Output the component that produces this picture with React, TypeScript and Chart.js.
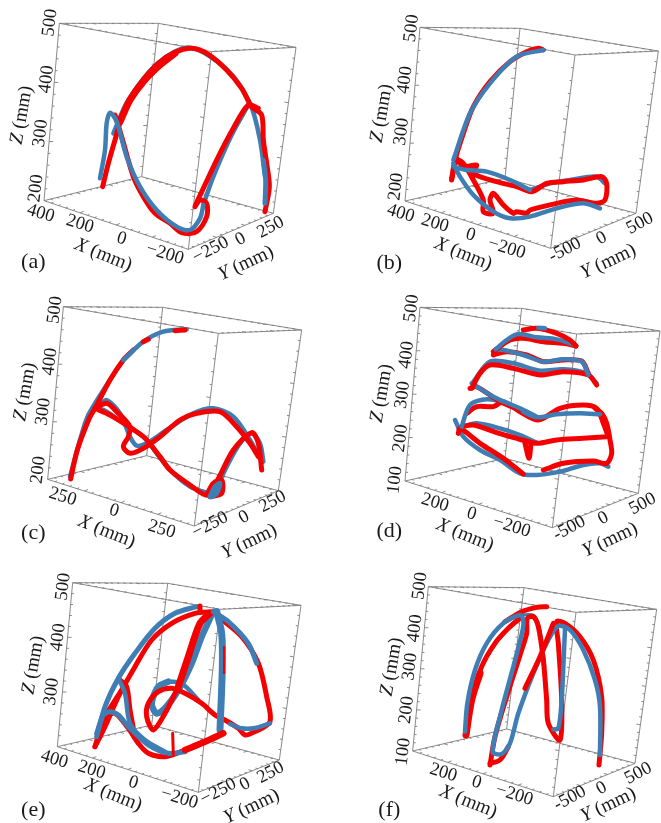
import React, { useEffect, useRef } from "react";
import { Chart, registerables } from "chart.js";

Chart.register(...registerables);

type P = number[];
const RED = "#f50000";
const BLUE = "#3f7db5";
const SERIF = '"Liberation Serif", "Times New Roman", Times, serif';

// Box corners, in projected plot units: top-left, top-back, top-right, top-front, bottom-left, bottom-back, bottom-right, bottom-front
const boxA: P[] = [[178,70],[475,70],[888,142],[635,155],[132,602],[425,530],[820,640],[565,748]];
const boxB: P[] = [[270,82],[570,85],[985,153],[735,165],[225,603],[525,535],[918,640],[662,745]];
const boxC: P[] = [[190,80],[488,82],[905,150],[655,160],[143,598],[440,527],[835,632],[583,738]];
const boxD: P[] = [[270,82],[575,85],[990,153],[740,162],[225,603],[525,535],[925,640],[667,743]];
const boxE: P[] = [[218,98],[503,100],[903,166],[660,178],[172,590],[455,525],[838,630],[595,727]];
const boxF: P[] = [[295,110],[582,113],[980,178],[738,187],[248,603],[530,537],[915,640],[670,740]];

// Trajectories (projected)
const aBlueArc: P[] = [[340,400],[385,300],[475,188],[570,143],[680,208],[750,310],[780,420],[795,530]];
const aRedArc: P[] = [[308,560],[325,490],[345,420],[358,375],[385,305],[425,245],[475,190],[525,157],[575,145],[625,163],[680,210],[725,265],[755,320],[785,345],[790,420],[800,490],[808,560],[795,635]];
const aRedBand: P[] = [[360,365],[390,300],[430,245],[480,195],[525,160]];
const aRedLoop: P[] = [[345,345],[365,410],[400,530],[430,590],[465,640],[510,670],[545,698],[590,695],[620,650],[620,610],[600,600],[585,620],[610,565],[650,480],[700,385],[745,315],[775,325]];
const aBlueLoop: P[] = [[300,535],[315,450],[320,370],[330,338],[350,365],[380,470],[420,560],[470,630],[530,680],[570,690],[600,655],[610,615]];
const aBlueRise: P[] = [[610,615],[640,530],[695,405],[745,315]];
const aBlueFoot: P[] = [[790,480],[797,540],[795,610]];

const bBlueArc: P[] = [[370,480],[420,340],[480,250],[560,170],[640,150]];
const bRedArc: P[] = [[365,535],[375,480],[400,400],[430,320],[480,245],[540,185],[590,155],[625,145],[640,150]];
const bBlueUpper: P[] = [[370,500],[410,510],[470,515],[540,540],[600,570]];
const bBlueUpperRight: P[] = [[600,570],[660,550],[720,540],[800,530],[825,550]];
const bBlueLower: P[] = [[810,625],[760,610],[680,625],[600,650],[540,655],[490,635],[430,585],[390,530],[370,490]];
const bRedLoop: P[] = [[380,475],[400,500],[440,495],[430,520],[500,545],[560,560],[605,575],[650,550],[700,545],[760,540],[815,530],[830,550],[825,600],[800,610],[740,600],[680,610],[600,630],[590,640],[560,635],[550,640],[520,615],[490,580],[480,600],[490,640],[460,635],[460,600],[430,540],[400,490],[380,480],[365,540]];

const cBlueArc: P[] = [[210,590],[240,480],[265,405],[330,300],[370,240]];
const cBlueTop: P[] = [[370,240],[430,185],[490,155],[560,148]];
const cRedArc: P[] = [[212,597],[232,510],[268,415],[285,385],[330,300],[370,240],[400,210]];
const cRedBits: P[] = [[430,185],[445,178]];
const cRedEnd: P[] = [[525,152],[555,150]];
const cBlue1: P[] = [[265,405],[290,385],[320,395],[370,430],[430,470],[470,520],[510,570],[570,620],[625,640]];
const cBlue2: P[] = [[300,375],[320,360],[360,400],[390,470],[410,497],[440,490],[500,450],[580,400],[640,385],[700,410],[750,480],[785,545]];
const cBlue3: P[] = [[640,645],[680,560],[720,490],[755,460],[780,490],[790,545]];
const cRed1: P[] = [[285,385],[330,405],[430,470],[480,530],[510,570],[570,615],[620,645],[650,605],[700,510],[755,458],[775,490],[785,570]];
const cRed2: P[] = [[285,385],[320,370],[350,395],[390,440],[385,470],[370,500],[390,520],[430,505],[480,470],[540,420],[590,400],[660,395],[710,440],[750,490],[775,530]];
const cKnotBlue: P[] = [[630,650],[645,620],[660,610],[650,640],[635,650]];
const cKnotRed: P[] = [[620,645],[640,610],[665,600],[665,640],[630,650]];

const dBlue1: P[] = [[375,420],[400,470],[450,510],[510,540],[570,580],[620,585],[690,575],[760,555],[810,550],[835,560]];
const dRed1: P[] = [[385,460],[390,445],[450,490],[520,535],[580,582]];
const dRed1b: P[] = [[640,570],[700,550],[790,543],[830,550],[845,520],[840,480],[830,430],[815,400],[795,385]];
const dRed2: P[] = [[395,440],[430,435],[500,458],[560,475],[620,490],[680,480],[760,475],[830,470]];
const dBlue2: P[] = [[400,440],[440,430],[510,445],[570,465],[620,488]];
const dSpike: P[] = [[585,490],[597,535],[603,490]];
const dBlue3: P[] = [[395,440],[420,375],[470,358],[530,370],[580,395],[620,412],[680,403],[750,400],[810,403]];
const dRed3: P[] = [[410,400],[440,380],[490,380],[520,365],[570,395],[625,420],[690,385],[760,375],[800,385],[820,430],[835,470]];
const dBlue4: P[] = [[425,310],[490,350],[570,385],[620,410]];
const dRed4: P[] = [[420,325],[440,320],[510,365],[570,390]];
const dRed5: P[] = [[425,325],[450,280],[480,255],[550,265],[630,285],[700,275],[775,285],[800,315]];
const dBlue5: P[] = [[430,305],[480,245],[550,250],[630,272],[700,268],[770,280],[800,310]];
const dRed6: P[] = [[490,225],[530,215],[590,225],[640,245],[700,240],[755,243],[775,280]];
const dBlue6: P[] = [[495,210],[520,210],[580,225],[640,245],[700,238],[755,245],[775,285]];
const dBlue7: P[] = [[497,208],[530,180],[565,162],[620,172],[680,178],[735,195]];
const dRed7: P[] = [[490,215],[540,180],[580,175],[640,185],[700,190],[738,198]];
const dRed8: P[] = [[580,150],[620,145],[680,160],[720,180],[738,198]];
const dBlue8: P[] = [[625,143],[645,145]];

const eBlueArc: P[] = [[290,560],[315,470],[355,385],[405,310],[465,235],[525,190],[590,170]];
const eRedArc: P[] = [[285,590],[315,530],[355,440],[405,350],[455,270],[515,220],[585,190],[640,185]];
const eRedTop: P[] = [[600,168],[600,185]];
const eBlueRight: P[] = [[640,185],[685,215],[745,280],[770,340]];
const eRedRight: P[] = [[655,200],[725,260],[775,340],[800,440],[810,515],[765,545],[735,555],[715,535],[675,510],[645,495],[605,460],[555,430],[515,415],[475,425],[445,460],[440,500],[460,540],[495,490],[535,410]];
const eRedBand: P[] = [[535,410],[565,320],[600,220],[630,190]];
const eBlueLoop: P[] = [[810,520],[760,535],[725,535],[690,522]];
const eBlueUpper: P[] = [[505,395],[475,410],[455,460],[470,490],[495,475],[535,420],[575,340],[605,260],[635,195]];
const eBlueHump3: P[] = [[505,395],[545,400],[595,450]];
const eBlueColumn: P[] = [[650,185],[665,250],[667,350],[660,540]];
const eRedDash: P[] = [[672,290],[672,370]];
const eRedBottom: P[] = [[615,575],[555,600],[495,620],[445,610],[415,580],[385,535],[345,490],[315,505],[300,540],[285,590]];
const eRedThick: P[] = [[670,550],[615,575],[555,600]];
const eBlueBottom: P[] = [[555,605],[505,610],[445,585],[385,530],[355,495],[330,485],[310,495],[290,550]];
const eBlueHump: P[] = [[355,385],[375,430],[390,520],[435,570],[495,605]];
const eRedHump: P[] = [[360,390],[380,410],[390,480],[400,535]];
const eRedLeft: P[] = [[300,545],[315,500],[365,420]];
const eRedStub: P[] = [[518,550],[520,615]];

const fBlueArc: P[] = [[405,545],[412,460],[435,360],[470,280],[520,220],[570,195],[580,210],[578,240],[550,350],[515,480],[488,605],[515,612],[540,580],[565,490],[610,370],[655,270],[685,228],[720,240],[760,300],[795,390],[810,470],[810,615]];
const fBlueThin: P[] = [[570,195],[610,195],[625,220],[635,270],[645,350]];
const fBlueShort: P[] = [[705,235],[700,350],[695,450],[685,535],[670,538]];
const fRedTop: P[] = [[525,215],[575,185],[620,172],[650,170]];
const fRedArc: P[] = [[408,555],[425,450],[455,350],[495,280],[535,235],[575,200]];
const fRedBand: P[] = [[408,555],[425,450],[450,370]];
const fRedLoop: P[] = [[480,645],[495,560],[530,440],[575,300],[590,250],[592,205],[610,200],[625,230],[640,330],[650,450],[655,520],[690,570],[695,450],[685,280],[680,215],[705,220],[750,260],[790,330],[815,440],[815,550],[807,645]];
const fRedRise: P[] = [[585,415],[630,320],[670,220]];
const fRedFoot: P[] = [[480,640],[510,630],[535,590]];

// Tick and axis text: string, then position and angle
type T = [string, number, number, number, string?];
const textA: T[] = [["500",150,68,-83],["400",140,238,-83],["300",122,400,-83],["200",108,565,-83],["400",122,640,17],["200",240,672,17],["0",365,716,17],["−200",495,762,17],["−250",632,750,-28],["0",722,718,-28],["250",812,682,-28],["Z",65,345,-80,"a"],["X",310,765,22,"a"],["Y",738,790,-25,"a"],["(a)",100,788,0,"p"]];
const textB: T[] = [["500",245,85,-83],["400",225,240,-83],["300",215,395,-83],["200",198,560,-83],["400",212,640,17],["200",315,670,17],["0",422,705,17],["−200",530,745,17],["-500",705,750,-28],["0",815,715,-28],["500",930,670,-28],["Z",155,340,-80,"a"],["X",400,762,22,"a"],["Y",835,785,-25,"a"],["(b)",178,790,0,"p"]];
const textC: T[] = [["500",165,90,-83],["400",150,245,-83],["300",130,395,-83],["200",115,570,-83],["250",188,650,17],["0",342,692,17],["250",485,748,17],["−250",630,735,-28],["0",732,712,-28],["250",818,665,-28],["Z",75,335,-80,"a"],["X",320,755,22,"a"],["Y",748,785,-25,"a"],["(c)",100,760,0,"p"]];
const textD: T[] = [["500",245,85,-83],["400",230,225,-83],["300",218,345,-83],["200",212,475,-83],["100",195,600,-83],["200",315,668,17],["0",425,702,17],["−200",545,740,17],["-500",718,745,-28],["0",820,715,-28],["500",938,672,-28],["Z",155,340,-80,"a"],["X",405,765,22,"a"],["Y",840,780,-25,"a"],["(d)",178,755,0,"p"]];
const textE: T[] = [["500",190,110,-83],["400",175,262,-83],["300",155,425,-83],["400",163,628,17],["200",275,660,17],["0",400,698,17],["−200",538,745,17],["−250",655,725,-28],["0",735,703,-28],["250",812,668,-28],["Z",100,345,-80,"a"],["X",340,735,22,"a"],["Y",755,770,-25,"a"],["(e)",100,780,0,"p"]];
const textF: T[] = [["500",270,108,-83],["400",255,235,-83],["300",240,350,-83],["200",230,480,-83],["100",220,605,-83],["200",340,668,17],["0",440,697,17],["−200",553,735,17],["-500",720,745,-28],["0",815,715,-28],["500",925,670,-28],["Z",185,350,-80,"a"],["X",415,755,22,"a"],["Y",835,765,-25,"a"],["(f)",178,780,0,"p"]];

type Tr = [P[], string, number?];
const panels: { left: number; top: number; h: number; box: P[]; text: T[]; traces: Tr[]; zDiv: number }[] = [
  { left: 0, top: 0, h: 290, box: boxA, text: textA, zDiv: 15,
    traces: [[aBlueArc, BLUE], [aBlueRise, BLUE], [aRedArc, RED], [aRedBand, RED, 7], [aRedLoop, RED], [aBlueLoop, BLUE], [aBlueFoot, BLUE, 5]] },
  { left: 330, top: 0, h: 290, box: boxB, text: textB, zDiv: 15,
    traces: [[bBlueUpperRight, BLUE], [bRedArc, RED], [bRedLoop, RED], [bBlueUpper, BLUE], [bBlueLower, BLUE], [bBlueArc, BLUE]] },
  { left: 0, top: 280, h: 290, box: boxC, text: textC, zDiv: 15,
    traces: [[cBlueArc, BLUE], [cBlue1, BLUE], [cBlue2, BLUE], [cBlue3, BLUE], [cRedArc, RED], [cRed1, RED], [cRed2, RED], [cKnotRed, RED], [cKnotBlue, BLUE, 5], [cBlueTop, BLUE], [cRedBits, RED], [cRedEnd, RED]] },
  { left: 330, top: 280, h: 290, box: boxD, text: textD, zDiv: 20,
    traces: [[dBlue1, BLUE], [dRed1, RED], [dRed1b, RED], [dBlue2, BLUE], [dRed2, RED], [dSpike, RED], [dRed3, RED], [dBlue3, BLUE], [dRed4, RED], [dBlue4, BLUE], [dBlue5, BLUE], [dRed5, RED], [dRed6, RED], [dBlue6, BLUE], [dRed7, RED], [dBlue7, BLUE], [dRed8, RED], [dBlue8, BLUE]] },
  { left: 0, top: 550, h: 273, box: boxE, text: textE, zDiv: 15,
    traces: [[eBlueHump3, BLUE], [eBlueUpper, BLUE, 6.5], [eRedArc, RED], [eRedRight, RED], [eRedBand, RED, 7], [eRedBottom, RED], [eRedLeft, RED], [eRedHump, RED], [eBlueArc, BLUE, 5], [eBlueRight, BLUE, 5], [eBlueLoop, BLUE], [eBlueBottom, BLUE, 5], [eBlueHump, BLUE], [eBlueColumn, BLUE, 7], [eRedDash, RED, 2], [eRedThick, RED, 6.5], [eRedTop, RED], [eRedStub, RED, 3]] },
  { left: 330, top: 550, h: 273, box: boxF, text: textF, zDiv: 20,
    traces: [[fBlueThin, BLUE, 3], [fRedArc, RED], [fRedBand, RED, 7], [fRedTop, RED], [fRedLoop, RED], [fRedFoot, RED], [fBlueArc, BLUE], [fBlueShort, BLUE], [fRedRise, RED]] },
];

const GAP = { x: NaN, y: NaN };

function boxSegments(b: P[], zDiv: number) {
  const out: { x: number; y: number }[] = [];
  // [from, to, tick divisions, corner whose direction the ticks follow]
  const edges: [number, number, number, number][] = [
    [0, 1, 15, 3], [1, 2, 20, 0], [2, 3, 15, 1], [3, 0, 20, 2],
    [4, 5, 15, 7], [5, 6, 20, 4], [6, 7, 15, 5], [7, 4, 20, 6],
    [0, 4, zDiv, 1], [1, 5, zDiv, 0], [2, 6, zDiv, 1], [3, 7, zDiv, 0],
  ];
  edges.forEach(([a, c, n, d]) => {
    out.push({ x: b[a][0], y: b[a][1] }, { x: b[c][0], y: b[c][1] }, GAP);
    const dx = b[d][0] - b[a][0];
    const dy = b[d][1] - b[a][1];
    const len = Math.hypot(dx, dy) || 1;
    for (let i = 1; i < n; i++) {
      const px = b[a][0] + ((b[c][0] - b[a][0]) * i) / n;
      const py = b[a][1] + ((b[c][1] - b[a][1]) * i) / n;
      const l = i % 5 === 0 ? 12 : 7;
      out.push({ x: px, y: py }, { x: px + (dx / len) * l, y: py + (dy / len) * l }, GAP);
    }
  });
  return out;
}

const textPlugin = {
  id: "panelText",
  afterDraw(chart: any) {
    const list: T[] = chart.options.plugins.panelText.items;
    const { ctx, scales } = chart;
    list.forEach(([s, x, y, r, kind]) => {
      ctx.save();
      ctx.translate(scales.x.getPixelForValue(x), scales.y.getPixelForValue(y));
      ctx.rotate((r * Math.PI) / 180);
      ctx.fillStyle = "#1a1a1a";
      ctx.textBaseline = "middle";
      if (kind === "a") {
        const it = "italic 19.5px " + SERIF;
        const up = "19.5px " + SERIF;
        ctx.font = it;
        const w1 = ctx.measureText(s).width;
        ctx.font = up;
        const rest = " (mm)";
        const w2 = ctx.measureText(rest).width;
        const x0 = -(w1 + w2) / 2;
        ctx.textAlign = "left";
        ctx.font = it;
        ctx.fillText(s, x0, 0);
        ctx.font = up;
        ctx.fillText(rest, x0 + w1, 0);
      } else {
        ctx.textAlign = "center";
        ctx.font = (kind === "p" ? "22px " : "18.5px ") + SERIF;
        ctx.fillText(s, 0, 0);
      }
      ctx.restore();
    });
  },
};

function Panel({ p }: { p: (typeof panels)[number] }) {
  const ref = useRef<HTMLCanvasElement>(null);
  useEffect(() => {
    const traceSets = p.traces.map(([pts, color, width]) => ({
      data: pts.map(([x, y]) => ({ x, y })),
      showLine: true,
      borderColor: color,
      borderWidth: width ?? (color === RED ? 5 : 4.5),
      borderCapStyle: "round" as const,
      borderJoinStyle: "round" as const,
      tension: 0.3,
      pointRadius: 0,
    }));
    const chart = new Chart(ref.current as HTMLCanvasElement, {
      type: "scatter",
      data: {
        // Chart.js paints the first dataset last, so the list runs from top layer to bottom layer.
        datasets: [
          ...traceSets.reverse(),
          {
            data: boxSegments(p.box, p.zDiv),
            showLine: true,
            borderColor: "#7d7d7d",
            borderWidth: 0.9,
            pointRadius: 0,
            spanGaps: false,
          },
        ],
      },
      options: {
        responsive: false,
        animation: false,
        layout: { padding: 0 },
        scales: {
          x: { type: "linear", display: false, min: 0, max: 993 },
          y: { type: "linear", display: false, min: 0, max: p.h * 3, reverse: true },
        },
        plugins: {
          legend: { display: false },
          tooltip: { enabled: false },
          panelText: { items: p.text },
        } as any,
      },
      plugins: [textPlugin],
    });
    return () => chart.destroy();
  }, [p]);
  return (
    <canvas
      ref={ref}
      width={331}
      height={p.h}
      style={{ position: "absolute", left: p.left, top: p.top, width: 331, height: p.h }}
    />
  );
}

export default function App() {
  useEffect(() => {
    document.body.style.margin = "0";
    document.body.style.background = "#fff";
  }, []);
  return (
    <div style={{ width: 661, height: 823, overflow: "hidden" }}>
      {panels.map((p, i) => (
        <Panel key={i} p={p} />
      ))}
    </div>
  );
}
